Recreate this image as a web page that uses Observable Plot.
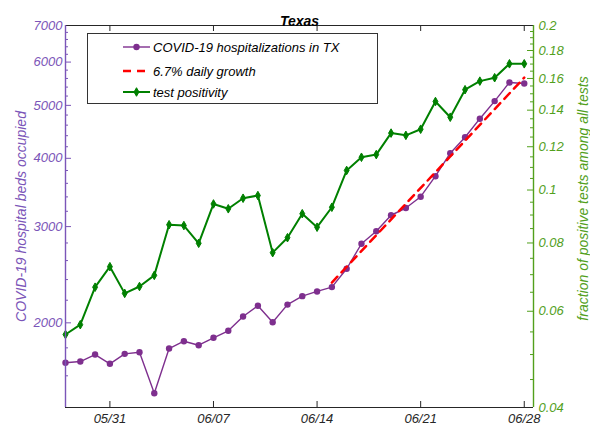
<!DOCTYPE html>
<html><head><meta charset="utf-8">
<script src="https://cdn.jsdelivr.net/npm/d3@7"></script>
<script src="https://cdn.jsdelivr.net/npm/@observablehq/plot@0.6"></script>
<style>
body{margin:0;background:#fff;font-family:"Liberation Sans",Arial,sans-serif}
#wrap{position:relative;width:590px;height:426px;overflow:hidden}
#legend{position:absolute;left:87px;top:33px;width:289px;height:69px;border:1px solid #333;background:#fff;font-style:italic;font-size:13px}
#legend svg{position:absolute;left:0;top:0}
</style></head><body><div id="wrap"></div>
<script>
const dates = ["2020-05-28","2020-05-29","2020-05-30","2020-05-31","2020-06-01","2020-06-02","2020-06-03","2020-06-04","2020-06-05","2020-06-06","2020-06-07","2020-06-08","2020-06-09","2020-06-10","2020-06-11","2020-06-12","2020-06-13","2020-06-14","2020-06-15","2020-06-16","2020-06-17","2020-06-18","2020-06-19","2020-06-20","2020-06-21","2020-06-22","2020-06-23","2020-06-24","2020-06-25","2020-06-26","2020-06-27","2020-06-28"];
const hospitalizations = [1690,1699,1750,1683,1755,1767,1487,1795,1851,1820,1878,1934,2054,2149,2005,2160,2238,2283,2325,2512,2791,2942,3147,3244,3403,3710,4087,4372,4727,5091,5507,5481];
const positivity = [0.0544,0.0567,0.0664,0.0724,0.0647,0.0666,0.0698,0.0864,0.0861,0.0799,0.0943,0.0924,0.0966,0.0977,0.0768,0.0818,0.0905,0.0855,0.0930,0.1086,0.1148,0.1161,0.1271,0.1259,0.1292,0.1452,0.1359,0.1526,0.1582,0.1605,0.1702,0.1702];
const growthDates = ["2020-06-15","2020-06-28"];
const growthValues = [2370,5620];
const leftTicks = [2000,3000,4000,5000,6000,7000];
const rightTicks = [0.04,0.06,0.08,0.1,0.12,0.14,0.16,0.18,0.2];
const xTicks = ["2020-05-31","2020-06-07","2020-06-14","2020-06-21","2020-06-28"];
const legendLabels = ["COVID-19 hospitalizations in TX","6.7% daily growth","test positivity"];
const title = "Texas";
const yLabelLeft = "COVID-19 hospital beds occupied";
const yLabelRight = "fraction of positive tests among all tests";

const purple = "#7E2F8E", green = "#008000", red = "#ff0000";
const axisPurple = "#7b55b8", axisGreen = "#52a01c", dark = "#262626";
const parse = d3.utcParse("%Y-%m-%d");
const x0 = parse("2020-05-28"), x1 = new Date(Date.UTC(2020,5,28,15));
const yMin = 1400, yMax = 7000, pMax = 0.2;
const K = yMax / pMax; // right-axis mapping onto left log scale

const W = 590, H = 426, ML = 65, MR = 57, MT = 25, MB = 19;
const FW = W - ML - MR, FH = H - MT - MB;
const major = 6, minor = 3;

const hosp = dates.map((d,i)=>({date:parse(d), value:hospitalizations[i]}));
const pos = dates.map((d,i)=>({date:parse(d), value:positivity[i]*K}));
const growth = growthDates.map((d,i)=>({date:parse(d), value:growthValues[i]}));
const xt = xTicks.map(parse);

const leftMinor = d3.range(1400, 7001, 200).filter(v=>!leftTicks.includes(v));
const rightMinor = d3.range(8, 41).map(v=>v*0.005).filter(v=>!rightTicks.some(t=>Math.abs(t-v)<1e-9)).map(v=>v*K);
const rightMajor = rightTicks.map(p=>p*K);

const chart = Plot.plot({
  width:W, height:H,
  marginLeft:ML, marginRight:MR, marginTop:MT, marginBottom:MB,
  style:{fontFamily:"'Liberation Sans', Arial, sans-serif", fontStyle:"italic", fontSize:"13px", background:"white", overflow:"visible"},
  x:{type:"utc", domain:[x0,x1], axis:null},
  y:{type:"log", domain:[yMin,yMax], axis:null},
  marks:[
    Plot.line(hosp, {x:"date", y:"value", stroke:purple, strokeWidth:1.4}),
    Plot.dot(hosp, {x:"date", y:"value", fill:purple, r:3.2}),
    Plot.line(growth, {x:"date", y:"value", stroke:red, strokeWidth:2.5, strokeDasharray:"8,6"}),
    Plot.line(pos, {x:"date", y:"value", stroke:green, strokeWidth:2}),
    Plot.dot(pos, {x:"date", y:"value", fill:green, stroke:green, strokeWidth:1, symbol:"diamond", r:2.6}),
    // inward ticks
    Plot.tickX(xt, {x:d=>d, insetTop:FH-major, stroke:dark}),
    Plot.tickX(xt, {x:d=>d, insetBottom:FH-major, stroke:dark}),
    Plot.tickY(leftTicks, {y:d=>d, insetRight:FW-major, stroke:axisPurple}),
    Plot.tickY(leftMinor, {y:d=>d, insetRight:FW-minor, stroke:axisPurple}),
    Plot.tickY(rightMajor, {y:d=>d, insetLeft:FW-major, stroke:axisGreen}),
    Plot.tickY(rightMinor, {y:d=>d, insetLeft:FW-minor, stroke:axisGreen}),
    // frame
    Plot.ruleY([yMax], {stroke:dark, strokeWidth:1.2}),
    Plot.ruleY([yMin], {stroke:dark, strokeWidth:1.2}),
    Plot.ruleX([x0], {stroke:axisPurple, strokeWidth:1.4}),
    Plot.ruleX([x1], {stroke:axisGreen, strokeWidth:1.4}),
    // tick labels
    Plot.axisX(xt, {anchor:"bottom", tickSize:0, tickPadding:6, tickFormat:d3.utcFormat("%m/%d"), label:null, color:dark, fontSize:13}),
    Plot.axisY(leftTicks, {anchor:"left", tickSize:0, tickPadding:3, tickFormat:d=>String(d), label:null, color:axisPurple, fontSize:13}),
    Plot.axisY(rightMajor, {anchor:"right", tickSize:0, tickPadding:5, tickFormat:v=>String(+(v/K).toFixed(3)), label:null, color:axisGreen, fontSize:13}),
    // labels
    Plot.text([title], {frameAnchor:"top", dy:-9.5, text:d=>d, fontWeight:"bold", fontSize:14, fill:"#000"}),
    Plot.text([yLabelLeft], {frameAnchor:"left", dx:-44, text:d=>d, rotate:-90, textAnchor:"middle", fontSize:14, fill:axisPurple}),
    Plot.text([yLabelRight], {frameAnchor:"right", dx:50, dy:-18, text:d=>d, rotate:-90, textAnchor:"middle", fontSize:14, fill:axisGreen})
  ]
});
const wrap = document.getElementById("wrap");
wrap.appendChild(chart);

// legend
const lg = document.createElement("div");
lg.id = "legend";
const ns = "http://www.w3.org/2000/svg";
const svg = document.createElementNS(ns, "svg");
svg.setAttribute("width", 289); svg.setAttribute("height", 69);
const rows = [13, 37, 58];
const styles = [
  {stroke:purple, w:1.4, dash:null, marker:"circle"},
  {stroke:red, w:2.5, dash:"8,6", marker:null},
  {stroke:green, w:2, dash:null, marker:"diamond"}
];
rows.forEach((cy,i)=>{
  const s = styles[i];
  const l = document.createElementNS(ns,"line");
  l.setAttribute("x1", 35); l.setAttribute("x2", 62); l.setAttribute("y1", cy); l.setAttribute("y2", cy);
  l.setAttribute("stroke", s.stroke); l.setAttribute("stroke-width", s.w);
  if (s.dash) l.setAttribute("stroke-dasharray", s.dash);
  svg.appendChild(l);
  if (s.marker === "circle") {
    const c = document.createElementNS(ns,"circle");
    c.setAttribute("cx", 48.5); c.setAttribute("cy", cy); c.setAttribute("r", 3.2); c.setAttribute("fill", s.stroke);
    svg.appendChild(c);
  } else if (s.marker === "diamond") {
    const p = document.createElementNS(ns,"path");
    p.setAttribute("d", d3.symbol(d3.symbolDiamond, 2.6*2.6*Math.PI)());
    p.setAttribute("transform", `translate(48.5,${cy})`);
    p.setAttribute("fill", s.stroke); p.setAttribute("stroke", s.stroke);
    svg.appendChild(p);
  }
  const t = document.createElementNS(ns,"text");
  t.setAttribute("x", 65); t.setAttribute("y", cy); t.setAttribute("dy", "0.35em");
  t.setAttribute("font-size", 13); t.setAttribute("font-style", "italic");
  t.setAttribute("font-family", "'Liberation Sans', Arial, sans-serif");
  t.setAttribute("fill", "#000");
  t.textContent = legendLabels[i];
  svg.appendChild(t);
});
lg.appendChild(svg);
wrap.appendChild(lg);
</script></body></html>
